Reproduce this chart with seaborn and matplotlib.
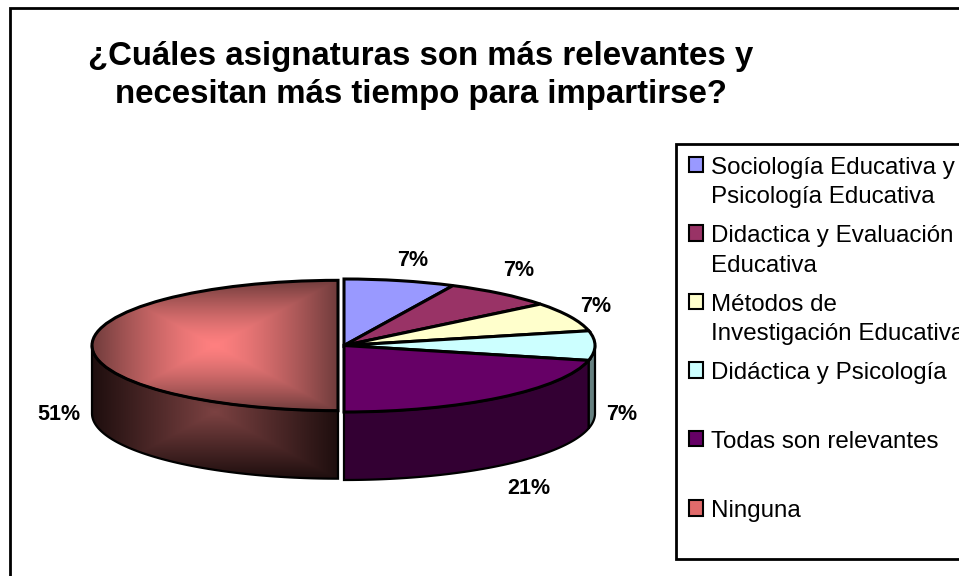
import numpy as np
import matplotlib
matplotlib.use("Agg")
import matplotlib.pyplot as plt
import seaborn as sns
from matplotlib.patches import Polygon, Rectangle

categorias = [
    "Sociología Educativa y\nPsicología Educativa",
    "Didactica y Evaluación\nEducativa",
    "Métodos de\nInvestigación Educativa",
    "Didáctica y Psicología\n ",
    "Todas son relevantes\n ",
    "Ninguna\n ",
]
# porcion dibujada (las etiquetas impresas van redondeadas)
porciones = [7.15, 7.15, 7.15, 7.15, 21.4, 50.0]
etiquetas = ["7%", "7%", "7%", "7%", "21%", "51%"]
colores_top = ["#9999ff", "#993366", "#ffffcc", "#ccffff", "#660066", "#b05858"]
colores_lado = ["#4c4c80", "#4c1a33", "#808066", "#668080", "#330033", "#402020"]
pos_etiquetas = [(413, 260), (519, 271), (596, 307), (622, 414), (529, 488), (59, 414)]

W, H = 959, 576
CX, CY, RX, RY = 344, 345.5, 251, 66.5
ALTO = 68 / RY
EXPLOTA = 6 / RX
R_NINGUNA = 246 / 251

sns.set_theme(style="white")
plt.rcParams["font.family"] = ["Liberation Sans", "DejaVu Sans"]

fig = plt.figure(figsize=(W / 100, H / 100), dpi=100, facecolor="white")
ax = fig.add_axes([0, 0, 1, 1])


def px(x, y):
    return x / W, 1 - y / H


def degradado(c_centro, c_borde, extent, clip, curva=1.0):
    u = np.linspace(-1, 1, 200)
    xx, yy = np.meshgrid(u, u)
    t = (np.maximum(np.abs(xx), np.abs(yy)) ** curva)[..., None]
    img = np.array(c_centro) * (1 - t) + np.array(c_borde) * t
    im = ax.imshow(img / 255, extent=extent, aspect="auto", zorder=2.5, interpolation="bilinear")
    im.set_clip_path(clip)


# tapa de la torta
explode = [0, 0, 0, 0, 0, EXPLOTA]
radios = [1, 1, 1, 1, 1, R_NINGUNA]
wedges, _ = ax.pie(
    porciones,
    colors=sns.color_palette(colores_top),
    startangle=90,
    counterclock=False,
    explode=explode,
    radius=1,
    wedgeprops={"edgecolor": "black", "linewidth": 2.2, "zorder": 3},
)
wedges[5].set_radius(R_NINGUNA)

# paredes laterales, solo la parte que da al frente
fin = np.cumsum(porciones) / sum(porciones) * 360
inicio = np.r_[0, fin[:-1]]
for i, color in enumerate(colores_lado):
    a0, a1 = max(inicio[i], 90), min(fin[i], 270)
    if a1 <= a0:
        continue
    th = np.radians(np.linspace(a0, a1, 80))
    dx = -explode[i]
    xs = radios[i] * np.sin(th) + dx
    ys = radios[i] * np.cos(th)
    pts = np.r_[np.c_[xs, ys], np.c_[xs[::-1], ys[::-1] - ALTO]]
    lado = Polygon(pts, closed=True, facecolor=color, edgecolor="black", linewidth=1.6, zorder=2)
    ax.add_patch(lado)
    if i == 5:
        # linea blanca bajo la pared de Ninguna
        ax.plot(xs, ys - ALTO - 0.02, color="white", lw=1.2, zorder=2)
        degradado((124, 66, 66), (30, 14, 14), (-R_NINGUNA + dx, dx, -R_NINGUNA - ALTO, 0), lado)
        lado.set_facecolor("none")
        lado.set_zorder(2.6)

degradado((255, 128, 128), (112, 60, 60), (-R_NINGUNA - EXPLOTA, -EXPLOTA, -R_NINGUNA, R_NINGUNA),
          wedges[5], curva=1.35)
wedges[5].set_facecolor("none")

ax.set_aspect("auto")
ax.set_xlim(-CX / RX, (W - CX) / RX)
ax.set_ylim((CY - H) / RY, CY / RY)
ax.axis("off")

# marco exterior, se sale del lienzo por la derecha y por abajo
fig.add_artist(Rectangle(px(9.5, 600), 1000 / W, 592 / H, transform=fig.transFigure,
                         fill=False, edgecolor="black", linewidth=2))

fig.text(*px(421, 56), "¿Cuáles asignaturas son más relevantes y", ha="center", va="center",
         fontsize=23.8, fontweight="bold", color="black")
fig.text(*px(421, 94), "necesitan más tiempo para impartirse?", ha="center", va="center",
         fontsize=23.8, fontweight="bold", color="black")

for txt, (x, y) in zip(etiquetas, pos_etiquetas):
    fig.text(*px(x, y), txt, ha="center", va="center", fontsize=15.5, fontweight="bold", color="black")

handles = [Rectangle((0, 0), 1, 1, facecolor=c, edgecolor="black", linewidth=1.5)
           for c in colores_top]
handles[5].set_facecolor("#e06a6a")
leg = ax.legend(
    handles,
    categorias,
    loc="upper left",
    bbox_to_anchor=px(676, 144),
    bbox_transform=fig.transFigure,
    fontsize=17.4,
    labelcolor="black",
    frameon=True,
    fancybox=False,
    edgecolor="black",
    framealpha=1,
    borderaxespad=0,
    borderpad=0.52,
    labelspacing=0.71,
    handlelength=0.6,
    handleheight=0.6,
    handletextpad=0.33,
)
leg.get_frame().set_linewidth(2)
for t in leg.get_texts():
    t.set_linespacing(1.44)
# la ultima entrada es mas baja para que el marco acabe donde en el original
leg.get_texts()[-1].set_linespacing(1.15)
# el cuadrito va en la primera linea del texto
for h in leg.legend_handles:
    h.set_y(h.get_y() + 13)
leg.legend_handles[-1].set_y(leg.legend_handles[-1].get_y() - 2.2)

fig.savefig("out.png", dpi=100)
